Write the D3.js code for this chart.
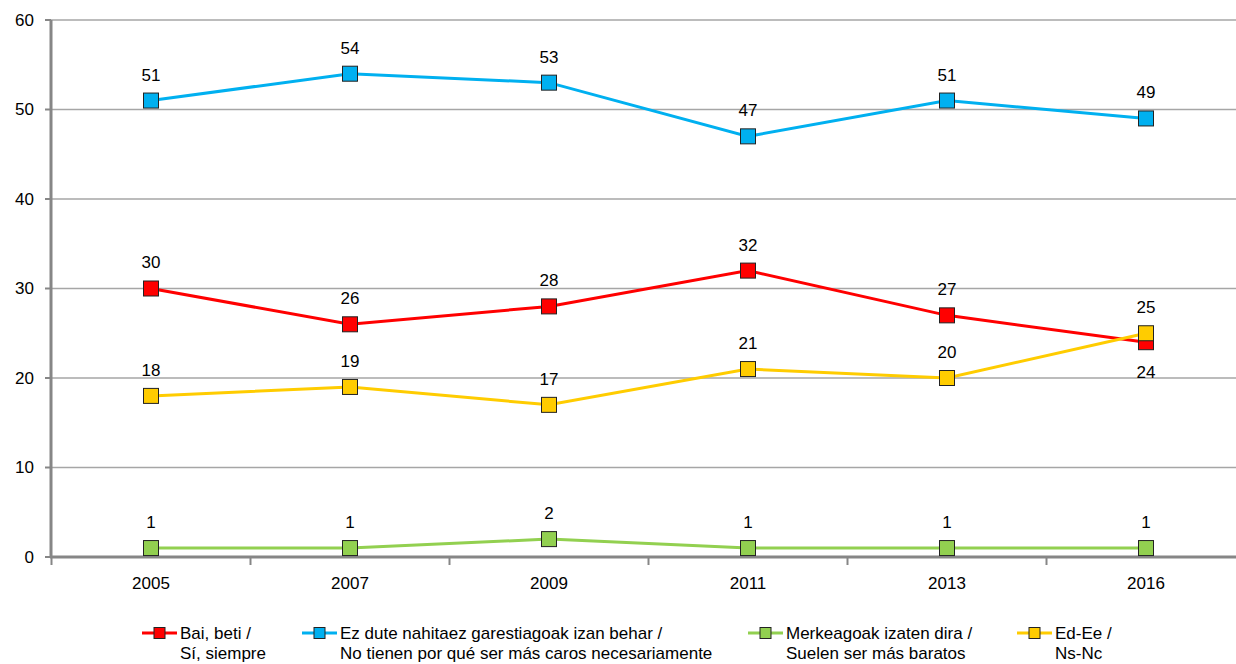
<!DOCTYPE html>
<meta charset="utf-8">
<style>

body {
  margin: 0;
  background-color: white;
  overflow: hidden;
}

text {
  font-family: "Liberation Sans", Arial, sans-serif;
  font-size: 17px;
  fill: #000;
}

</style>
<body>

<script src="https://cdn.jsdelivr.net/npm/d3@7"></script>
<script>

var years = ["2005", "2007", "2009", "2011", "2013", "2016"];
var yTicks = [0, 10, 20, 30, 40, 50, 60];

var siempre = [30, 26, 28, 32, 27, 24];
var noCaros = [51, 54, 53, 47, 51, 49];
var baratos = [1, 1, 2, 1, 1, 1];
var nsnc = [18, 19, 17, 21, 20, 25];

var seriesNames = [
  ["Bai, beti /", "Sí, siempre"],
  ["Ez dute nahitaez garestiagoak izan behar /", "No tienen por qué ser más caros necesariamente"],
  ["Merkeagoak izaten dira /", "Suelen ser más baratos"],
  ["Ed-Ee /", "Ns-Nc"]
];
var seriesColors = ["#ff0000", "#00b0f0", "#92d050", "#ffcc00"];
var seriesValues = [siempre, noCaros, baratos, nsnc];

var width = 1236,
    height = 664;

var svg = d3.select("body").append("svg")
    .attr("width", width)
    .attr("height", height);

var x = d3.scaleBand()
    .domain(years)
    .range([51.5, 1245.5]);

var y = d3.scaleLinear()
    .domain([0, 60])
    .range([557, 20]);

// gridlines
svg.append("g")
  .selectAll("line")
  .data(yTicks.slice(1))
  .enter().append("line")
    .attr("x1", 51)
    .attr("x2", width)
    .attr("y1", function(d) { return y(d); })
    .attr("y2", function(d) { return y(d); })
    .style("stroke", "#a6a6a6")
    .style("stroke-width", 1.5);

// y axis
var yAxis = svg.append("g");
yAxis.append("line")
    .attr("x1", 51).attr("x2", 51)
    .attr("y1", y(60)).attr("y2", y(0) + 1)
    .style("stroke", "#868686")
    .style("stroke-width", 3);
yAxis.selectAll(".tick")
  .data(yTicks)
  .enter().append("line")
    .attr("x1", 45).attr("x2", 51)
    .attr("y1", function(d) { return y(d); })
    .attr("y2", function(d) { return y(d); })
    .style("stroke", "#868686")
    .style("stroke-width", 2);
yAxis.selectAll("text")
  .data(yTicks)
  .enter().append("text")
    .attr("x", 34)
    .attr("y", function(d) { return y(d); })
    .attr("dy", "0.35em")
    .attr("text-anchor", "end")
    .text(function(d) { return d; });

// x axis
var xAxis = svg.append("g");
xAxis.append("line")
    .attr("x1", 50).attr("x2", width)
    .attr("y1", y(0)).attr("y2", y(0))
    .style("stroke", "#868686")
    .style("stroke-width", 3);
xAxis.selectAll(".tick")
  .data(years)
  .enter().append("line")
    .attr("x1", function(d) { return x(d); })
    .attr("x2", function(d) { return x(d); })
    .attr("y1", y(0)).attr("y2", y(0) + 8)
    .style("stroke", "#868686")
    .style("stroke-width", 2);
xAxis.selectAll("text")
  .data(years)
  .enter().append("text")
    .attr("x", function(d) { return x(d) + x.bandwidth() / 2; })
    .attr("y", 583)
    .attr("dy", "0.35em")
    .attr("text-anchor", "middle")
    .text(function(d) { return d; });

var line = d3.line()
    .x(function(d, i) { return x(years[i]) + x.bandwidth() / 2; })
    .y(function(d) { return y(d); });

var ms = 15;

var order = [2, 0, 1, 3];
order.forEach(function(s) {
  var g = svg.append("g");
  g.append("path")
      .attr("d", line(seriesValues[s]))
      .style("fill", "none")
      .style("stroke", seriesColors[s])
      .style("stroke-width", 3);
  g.selectAll("rect")
    .data(seriesValues[s])
    .enter().append("rect")
      .attr("x", function(d, i) { return x(years[i]) + x.bandwidth() / 2 - ms / 2; })
      .attr("y", function(d) { return y(d) - ms / 2; })
      .attr("width", ms)
      .attr("height", ms)
      .style("fill", seriesColors[s])
      .style("stroke", "#222")
      .style("stroke-width", 1);
});

// data labels
seriesValues.forEach(function(vals, s) {
  svg.append("g").selectAll("text")
    .data(vals)
    .enter().append("text")
      .attr("x", function(d, i) { return x(years[i]) + x.bandwidth() / 2; })
      .attr("y", function(d, i) {
        // 2016 red label sits below the marker
        if (s === 0 && i === 5) return y(d) + 30;
        return y(d) - 26;
      })
      .attr("dy", "0.35em")
      .attr("text-anchor", "middle")
      .text(function(d) { return d; });
});

// legend
var legendX = [142, 302, 748, 1017];
var legend = svg.append("g");
seriesNames.forEach(function(names, s) {
  var lx = legendX[s];
  legend.append("line")
      .attr("x1", lx).attr("x2", lx + 35)
      .attr("y1", 633).attr("y2", 633)
      .style("stroke", seriesColors[s])
      .style("stroke-width", 3);
  legend.append("rect")
      .attr("x", lx + 17.5 - 5.5)
      .attr("y", 633 - 5.5)
      .attr("width", 11)
      .attr("height", 11)
      .style("fill", seriesColors[s])
      .style("stroke", "#222")
      .style("stroke-width", 1);
  legend.append("text")
      .attr("x", lx + 38)
      .attr("y", 639)
      .text(names[0]);
  legend.append("text")
      .attr("x", lx + 38)
      .attr("y", 659)
      .text(names[1]);
});

</script>
